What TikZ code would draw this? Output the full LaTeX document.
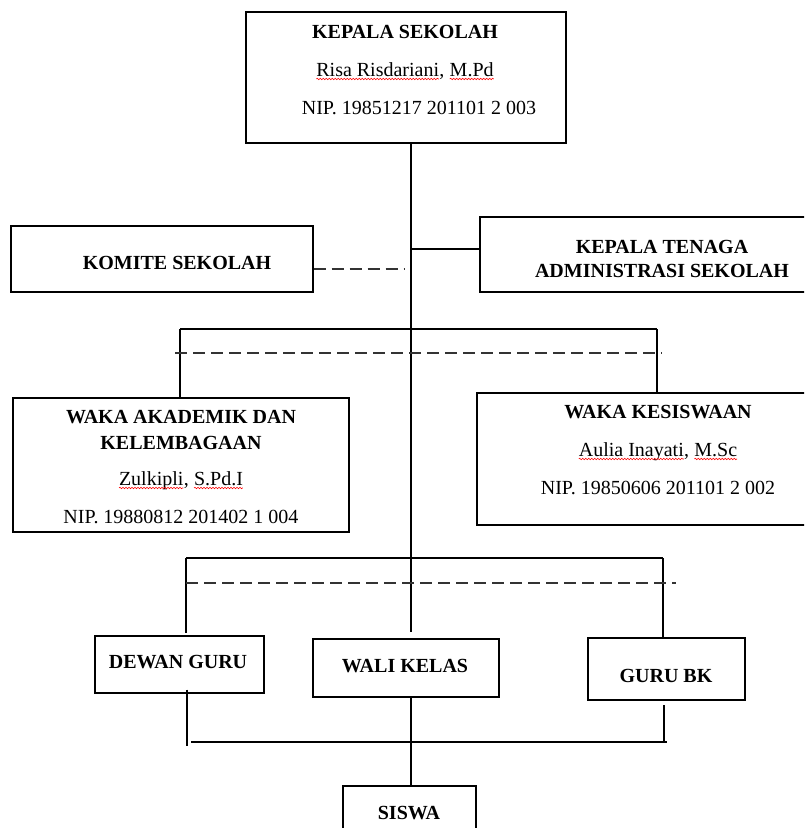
\documentclass[tikz,border=0pt]{standalone}
\usepackage{fontspec}
\setmainfont{Liberation Serif}
\usetikzlibrary{decorations.pathmorphing}
\newcommand{\salah}[1]{\tikz[baseline=(w.base)]{\node[inner sep=0pt,outer sep=0pt] (w) {#1};\draw[red,line width=0.6pt,decorate,decoration={snake,amplitude=0.7pt,segment length=3pt}] ([yshift=-2.5pt]w.base west) -- ([yshift=-2.5pt]w.base east);}}
\begin{document}
\begin{tikzpicture}[x=1pt,y=-1pt,line width=1.3pt,
  kotak/.style={draw,rectangle,inner sep=0pt},
  teks/.style={align=center,inner sep=0pt,font=\fontsize{20}{24}\selectfont},
  putus/.style={draw=black!80,dash pattern=on 12pt off 6pt}]
 \useasboundingbox (0,0) rectangle (804,828);
 \clip (0,0) rectangle (804,828);
 \fill[white] (0,0) rectangle (804,828);
 \node[kotak,minimum width=320pt,minimum height=131pt] (ks) at (406,77.5) {};
 \node[kotak,minimum width=302pt,minimum height=66pt] (komite) at (162,259) {};
 \node[kotak,minimum width=360pt,minimum height=75pt] (kta) at (660,254.5) {};
 \node[kotak,minimum width=336pt,minimum height=134pt] (wak) at (181,465) {};
 \node[kotak,minimum width=363pt,minimum height=132pt] (wks) at (658.5,459) {};
 \node[kotak,minimum width=169pt,minimum height=57pt] (dewan) at (179.5,664.5) {};
 \node[kotak,minimum width=186pt,minimum height=58pt] (wali) at (406,668) {};
 \node[kotak,minimum width=157pt,minimum height=62pt] (guru) at (666.5,669) {};
 \node[kotak,minimum width=133pt,minimum height=64pt] (siswa) at (409.5,818) {};
 \node[teks] (ksT) at (405,70) {\textbf{KEPALA SEKOLAH}\\[14pt]\salah{Risa Risdariani}, \salah{M.Pd}\\[14pt]\hspace*{28pt}NIP. 19851217 201101 2 003};
 \node[teks] (komiteT) at (177,263) {\textbf{KOMITE SEKOLAH}};
 \node[teks] (ktaT) at (662,259) {\textbf{KEPALA TENAGA}\\\textbf{ADMINISTRASI SEKOLAH}};
 \node[teks] (wakT) at (181,467) {\textbf{WAKA AKADEMIK DAN}\\[2pt]\textbf{KELEMBAGAAN}\\[12pt]\salah{Zulkipli}, \salah{S.Pd.I}\\[14pt]NIP. 19880812 201402 1 004};
 \node[teks] (wksT) at (658,450) {\textbf{WAKA KESISWAAN}\\[14pt]\salah{Aulia Inayati}, \salah{M.Sc}\\[14pt]NIP. 19850606 201101 2 002};
 \node[teks] (dewanT) at (178,662) {\textbf{DEWAN GURU}};
 \node[teks] (waliT) at (405,666) {\textbf{WALI KELAS}};
 \node[teks] (guruT) at (666,676) {\textbf{GURU BK}};
 \node[teks] (siswaT) at (409,813) {\textbf{SISWA}};
 \coordinate (trunk) at (411,632);
 \coordinate (j1) at (411,249);
 \coordinate (j2) at (405,269);
 \coordinate (h1a) at (180,329);
 \coordinate (h1b) at (657,329);
 \coordinate (d1a) at (175,353);
 \coordinate (d1b) at (662,353);
 \coordinate (h2a) at (186,558);
 \coordinate (h2b) at (663,558);
 \coordinate (h2c) at (186,633);
 \coordinate (d2a) at (186,583);
 \coordinate (d2b) at (676,583);
 \coordinate (b1) at (187,746);
 \coordinate (b2) at (191,742);
 \coordinate (b3) at (667,742);
 \coordinate (b4) at (664,705);
 \draw (ks.south -| trunk) -- (trunk);
 \draw (j1) -- (j1 -| kta.west);
 \draw[putus] (komite.east |- j2) -- (j2);
 \draw (h1a) -- (h1b);
 \draw (h1a) -- (h1a |- wak.north);
 \draw (h1b) -- (h1b |- wks.north);
 \draw[putus] (d1a) -- (d1b);
 \draw (h2a) -- (h2b);
 \draw (h2a) -- (h2c);
 \draw (h2b) -- (h2b |- guru.north);
 \draw[putus] (d2a) -- (d2b);
 \draw ([yshift=4pt]dewan.south -| b1) -- (b1);
 \draw (b2) -- (b3);
 \draw (b4) -- (b4 |- b2);
 \draw (wali.south -| trunk) -- (siswa.north -| trunk);
\end{tikzpicture}
\end{document}
